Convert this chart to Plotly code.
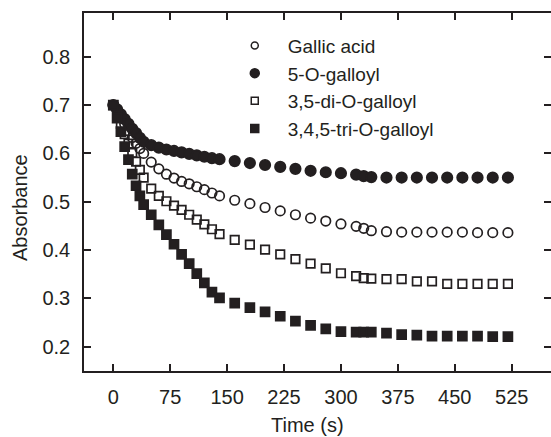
import plotly.graph_objects as go

# Sampling times (s)
time_s = [0, 5, 10, 15, 20, 25, 30, 35, 40,
          50, 60, 70, 80, 90, 100, 110, 120, 130, 140,
          160, 180, 200, 220, 240, 260, 280, 300, 320,
          330, 340,
          360, 380, 400, 420, 440, 460, 480, 500, 520]

# Absorbance readings
gallic_acid = [0.700, 0.690, 0.676, 0.661, 0.647, 0.633, 0.621, 0.610, 0.600,
               0.582, 0.568, 0.557, 0.549, 0.542, 0.537, 0.531, 0.525, 0.518, 0.512,
               0.503, 0.496, 0.488, 0.481, 0.473, 0.466, 0.460, 0.454, 0.449,
               0.445, 0.440,
               0.438, 0.437, 0.437, 0.437, 0.437, 0.437, 0.436, 0.436, 0.436]
galloyl_5 = [0.700, 0.691, 0.681, 0.671, 0.661, 0.651, 0.642, 0.632, 0.624,
             0.617, 0.612, 0.608, 0.605, 0.602, 0.599, 0.596, 0.593, 0.590, 0.588,
             0.584, 0.580, 0.576, 0.572, 0.568, 0.564, 0.561, 0.559, 0.556,
             0.553, 0.551,
             0.550, 0.550, 0.550, 0.550, 0.550, 0.550, 0.550, 0.550, 0.550]
digalloyl_35 = [0.700, 0.683, 0.661, 0.640, 0.620, 0.601, 0.583, 0.566, 0.550,
                0.527, 0.512, 0.501, 0.492, 0.483, 0.473, 0.463, 0.453, 0.443, 0.433,
                0.421, 0.411, 0.401, 0.391, 0.381, 0.372, 0.362, 0.352, 0.346,
                0.342, 0.341,
                0.340, 0.340, 0.335, 0.335, 0.330, 0.330, 0.330, 0.330, 0.330]
trigalloyl_345 = [0.700, 0.673, 0.645, 0.614, 0.587, 0.557, 0.533, 0.512, 0.494,
                  0.473, 0.452, 0.432, 0.412, 0.391, 0.372, 0.351, 0.332, 0.313, 0.301,
                  0.290, 0.281, 0.272, 0.263, 0.253, 0.244, 0.237, 0.231, 0.230,
                  0.230, 0.230,
                  0.228, 0.225, 0.224, 0.222, 0.222, 0.222, 0.222, 0.221, 0.221]

x_ticks = [0, 75, 150, 225, 300, 375, 450, 525]
y_ticks = [0.2, 0.3, 0.4, 0.5, 0.6, 0.7, 0.8]

INK = "#231f20"
FONT = "Liberation Sans, Arial, Helvetica, sans-serif"
FS = 20

# name, values, symbol, marker size on the plot, marker size in the key
series = [
    ("Gallic acid", gallic_acid, "circle-open", 9.5, 7),
    ("5-O-galloyl", galloyl_5, "circle", 10.5, 9),
    ("3,5-di-O-galloyl", digalloyl_35, "square-open", 8.5, 7),
    ("3,4,5-tri-O-galloyl", trigalloyl_345, "square", 9, 8),
]

fig = go.Figure()
for i, (name, vals, sym, size, key_size) in enumerate(series):
    fig.add_trace(go.Scatter(
        x=time_s, y=vals, mode="markers", name=name,
        legendgroup=f"g{i}", showlegend=False,
        marker=dict(symbol=sym, size=size, color=INK,
                    line=dict(color=INK, width=1.7)),
    ))
    # key entry with the smaller symbol
    fig.add_trace(go.Scatter(
        x=[None], y=[None], mode="markers", name=name,
        legendgroup=f"g{i}", showlegend=True, hoverinfo="skip",
        marker=dict(symbol=sym, size=key_size, color=INK,
                    line=dict(color=INK, width=1.5)),
    ))

# invisible companion trace carrying the right-hand tick marks
fig.add_trace(go.Scatter(x=[None], y=[None], yaxis="y2", showlegend=False,
                         hoverinfo="skip"))

x_range = [-38.6, 576.8]
y_range = [0.1497, 0.8905]

fig.update_layout(
    width=551, height=437,
    margin=dict(l=84, r=0, t=13, b=66),
    paper_bgcolor="white", plot_bgcolor="white",
    font=dict(family=FONT, size=FS, color=INK),
    showlegend=True,
    legend=dict(x=0.295, y=0.962, xanchor="left", yanchor="top",
                bgcolor="rgba(0,0,0,0)", itemwidth=56, tracegroupgap=0,
                font=dict(family=FONT, size=19, color=INK)),
    xaxis=dict(range=x_range, tickvals=x_ticks, ticktext=[str(v) for v in x_ticks],
               ticks="inside", ticklen=7, tickwidth=1.5, tickcolor=INK,
               ticklabelstandoff=7,
               showline=True, linecolor=INK, linewidth=1.5, mirror="ticks",
               showgrid=False, zeroline=False,
               tickfont=dict(family=FONT, size=FS, color=INK)),
    yaxis=dict(range=y_range, tickvals=y_ticks, ticktext=[f"{v:.1f}" for v in y_ticks],
               ticks="inside", ticklen=7, tickwidth=1.5, tickcolor=INK,
               ticklabelstandoff=8,
               showline=True, linecolor=INK, linewidth=1.5, mirror=False,
               showgrid=False, zeroline=False,
               tickfont=dict(family=FONT, size=FS, color=INK)),
    yaxis2=dict(range=y_range, tickvals=y_ticks, overlaying="y", side="right",
                ticks="inside", ticklen=7, tickwidth=1.5, tickcolor=INK,
                showticklabels=False, showline=False, showgrid=False,
                zeroline=False),
    annotations=[
        dict(text="Time (s)", xref="paper", yref="paper",
             x=(307 - 84) / 467, y=-(425 - 371) / 358,
             xanchor="center", yanchor="middle", showarrow=False,
             font=dict(family=FONT, size=FS, color=INK)),
        dict(text="Absorbance", xref="paper", yref="paper", textangle=-90,
             x=-(84 - 20) / 467, y=1 - (208 - 13) / 358,
             xanchor="center", yanchor="middle", showarrow=False,
             font=dict(family=FONT, size=FS, color=INK)),
    ],
)

fig.write_html("out.html")
